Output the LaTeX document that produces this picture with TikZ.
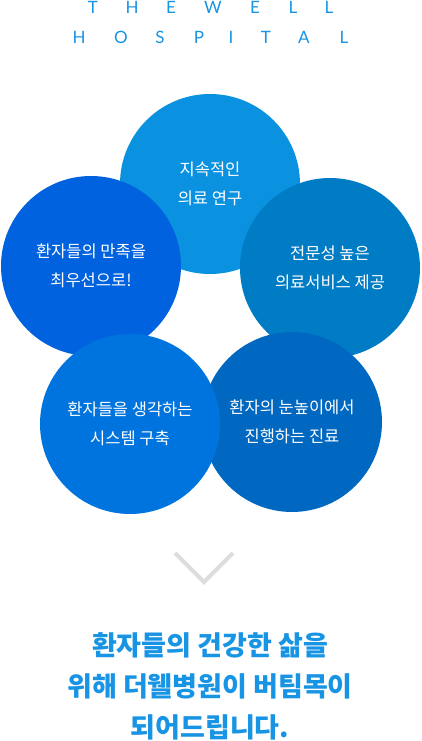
\documentclass[tikz,border=0pt]{standalone}
\usepackage{fontspec}
\newfontfamily\kr{Noto Sans CJK KR}
\newfontfamily\ttl{Lato}
\definecolor{ctop}{RGB}{10,146,224}
\definecolor{cleft}{RGB}{0,98,222}
\definecolor{cright}{RGB}{0,124,196}
\definecolor{cbl}{RGB}{0,116,222}
\definecolor{cbr}{RGB}{0,104,192}
\definecolor{tblue}{RGB}{24,148,228}
\definecolor{chev}{RGB}{221,221,221}
\begin{document}
\begin{tikzpicture}[x=1pt,y=-1pt,
  bubble/.style={circle, inner sep=0pt, minimum size=180pt, text=white, align=center,
    font=\kr\fontsize{16.5}{29}\selectfont},
  letter/.style={anchor=base, inner sep=0pt, text=tblue, font=\ttl\fontsize{17}{17}\selectfont}]
\useasboundingbox (0,0) rectangle (421,741);
\fill[white] (0,0) rectangle (421,741);
% title
\foreach \l/\x [count=\i] in {T/93,H/132,E/171,W/213,E/255,L/293,L/329}
  \node[letter] (ta\i) at (\x,14) {\l};
\foreach \l/\x [count=\i] in {H/79,O/121,S/160,P/199,I/231,T/266,A/304,L/344}
  \node[letter] (tb\i) at (\x,44) {\l};
% circles
\node[bubble, fill=ctop] (c1) at (210,184) {지속적인\\의료 연구};
\node[bubble, fill=cleft] (c2) at (91,266) {환자들의 만족을\\최우선으로!};
\node[bubble, fill=cright] (c3) at (330,268) {전문성 높은\\의료서비스 제공};
\node[bubble, fill=cbr] (c5) at (292,422) {환자의 눈높이에서\\진행하는 진료};
\node[bubble, fill=cbl] (c4) at (130,424) {환자들을 생각하는\\시스템 구축};
% chevron
\draw[chev, line width=4pt] (175,553) -- (204,582) -- (233,553);
% bottom text
\node[align=center, text=tblue, inner sep=0pt, font=\kr\bfseries\fontsize{27}{41}\selectfont] (msg) at (210,686)
  {환자들의 건강한 삶을\\위해 더웰병원이 버팀목이\\되어드립니다.};
\end{tikzpicture}
\end{document}
